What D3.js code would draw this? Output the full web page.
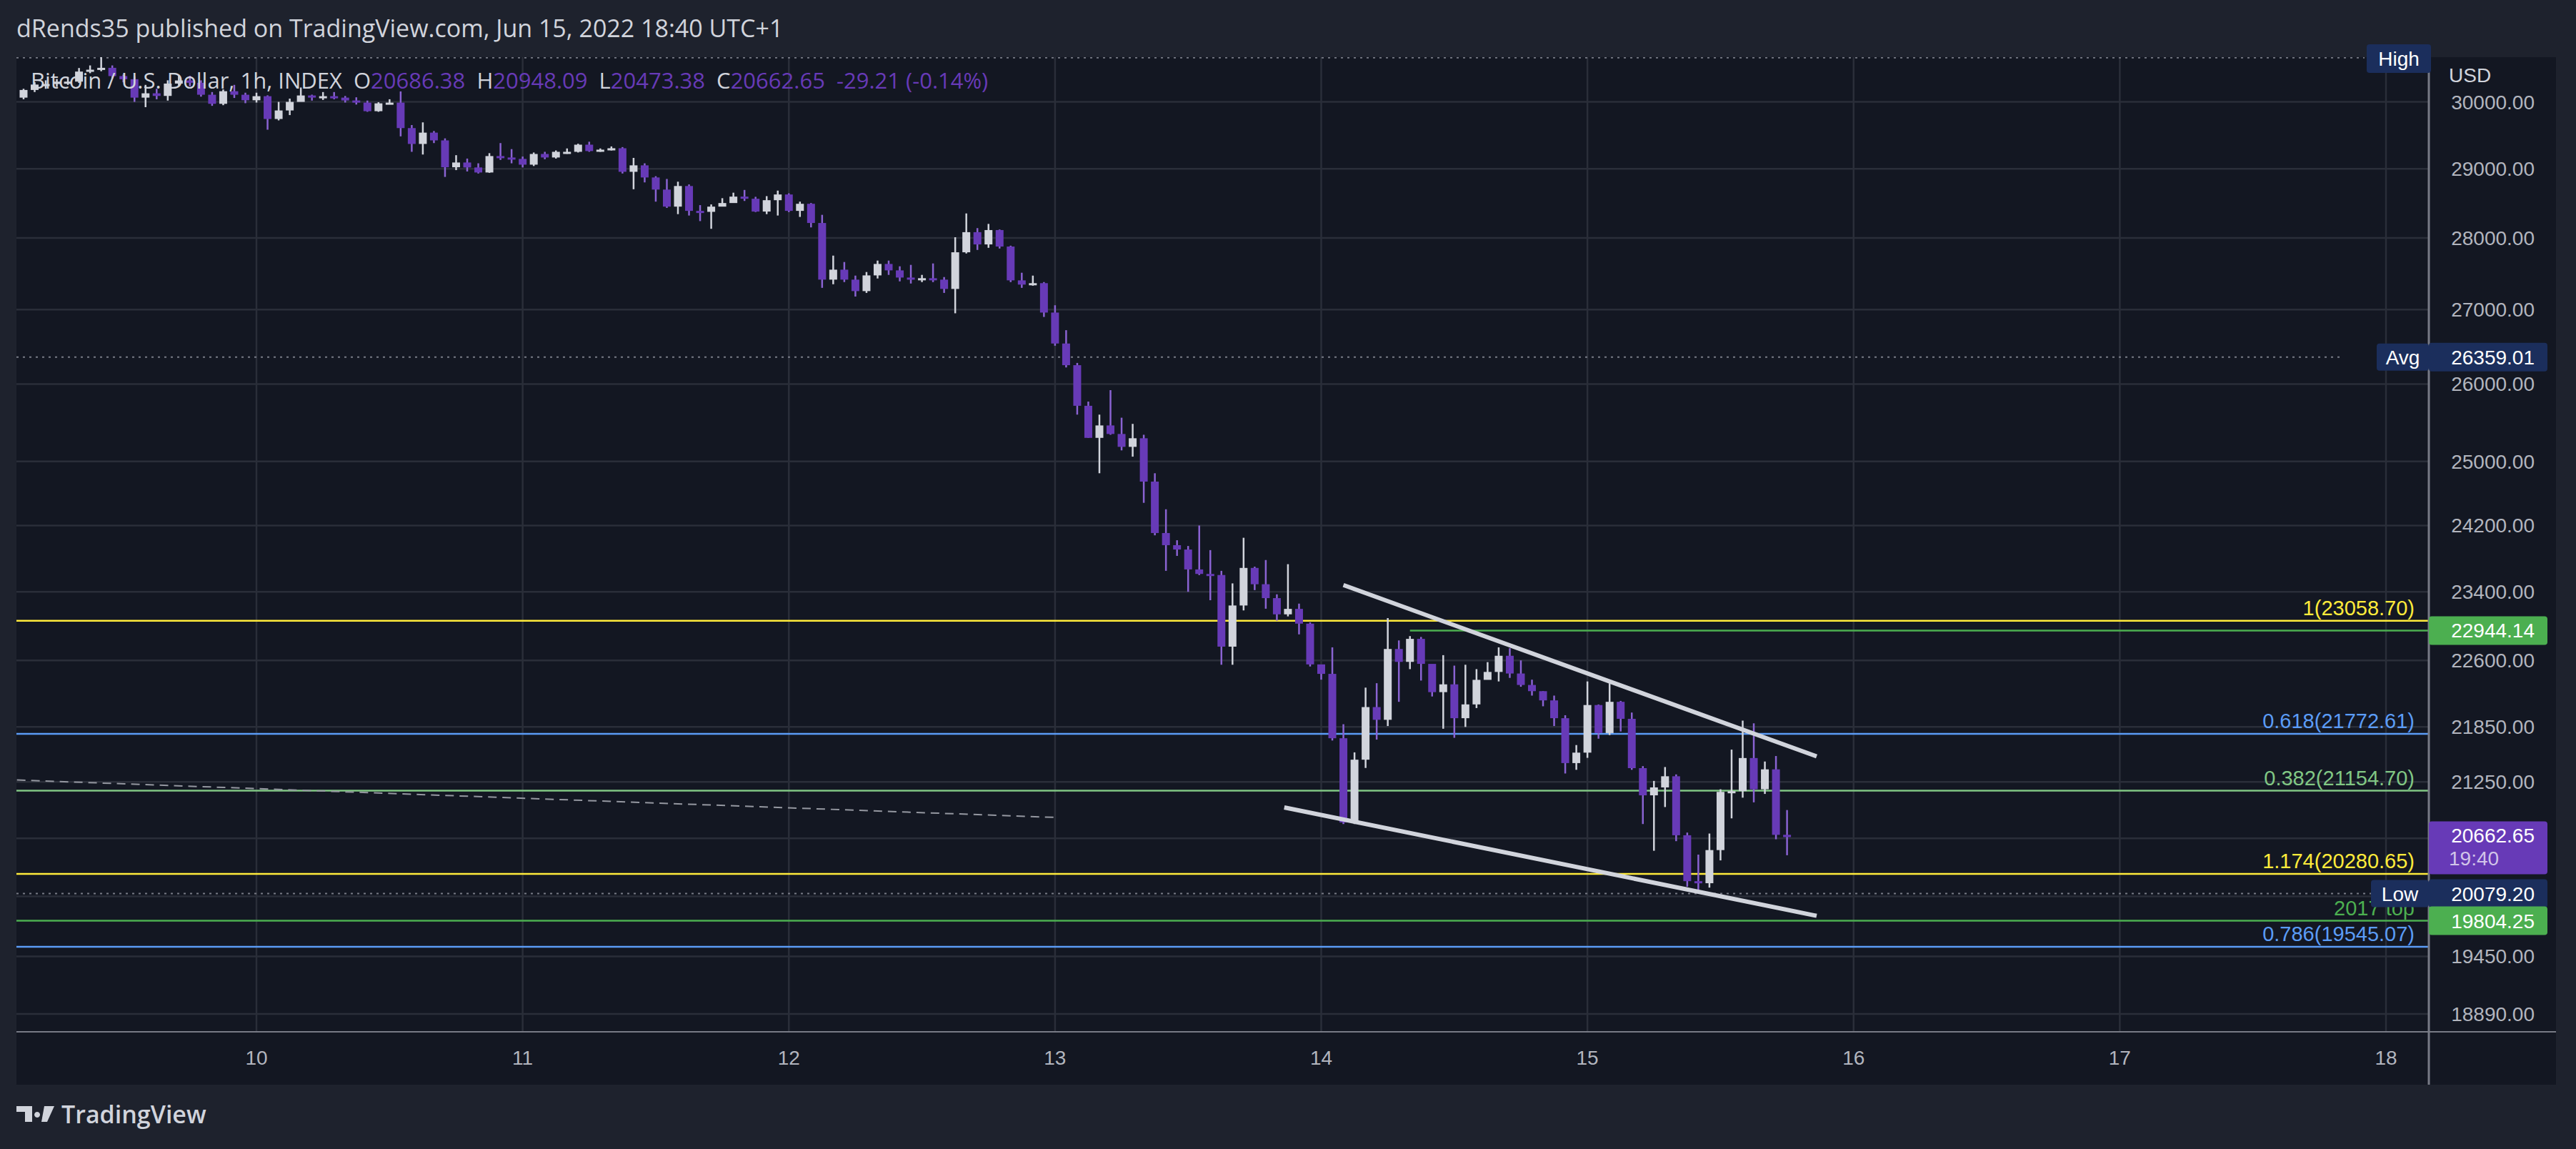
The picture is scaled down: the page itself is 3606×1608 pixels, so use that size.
<!DOCTYPE html>
<html><head><meta charset="utf-8">
<script src="https://cdn.jsdelivr.net/npm/d3@7"></script>
<style>body{margin:0;background:#1e222d}svg{display:block}</style>
</head><body>
<svg id="canvas" width="3606" height="1608"></svg>
<script>
// hourly candles, first one opens Jun 9 03:00
var startTime = new Date(2022, 5, 9, 3);
var firstOpen = 30065;
var closes = [30182,30265,30273,30310,30310,30465,30494,30523,30395,30347,
30065,30131,30091,30280,30328,30292,30109,29971,30163,30109,
30025,30087,29741,29870,30000,30098,30065,30087,30065,30022,
29989,29859,29978,29989,29604,29367,29536,29420,29022,29092,
29019,28945,29187,29166,29145,29060,29218,29166,29250,29250,
29356,29261,29282,29303,28955,29050,28872,28695,28448,28747,
28387,28373,28448,28500,28593,28562,28377,28541,28624,28387,
28489,28213,27414,27553,27414,27255,27473,27633,27543,27443,
27414,27434,27414,27285,27797,28082,27908,28112,27878,27404,
27345,27365,26960,26540,26250,25715,25300,25460,25350,25185,
25295,24745,24108,23960,23907,23667,23613,23600,22758,23238,
23685,23490,23325,23134,23198,23025,22554,22446,21725,20817,
21490,22071,21929,22731,22583,22848,22560,22239,22327,21947,
22101,22378,22468,22653,22450,22320,22250,22146,21947,21453,
21567,22094,21782,22130,21940,21398,21105,21190,21310,20682,
20206,20185,20527,21142,21150,21508,21170,21385,20686.38,20662.65];
var highs = [30200,30300,30330,30350,30380,30520,30560,30700,30560,30420,
30390,30260,30200,30330,30400,30400,30330,30150,30190,30260,
30140,30140,30100,30000,30050,30220,30110,30150,30150,30090,
30070,30020,29995,30040,30160,29650,29690,29560,29450,29200,
29150,29080,29230,29380,29290,29180,29240,29250,29270,29300,
29370,29400,29300,29330,29320,29160,29080,28890,28850,28810,
28770,28470,28480,28570,28650,28690,28590,28600,28680,28640,
28520,28500,28330,27750,27660,27470,27520,27680,27680,27600,
27620,27480,27640,27450,28010,28350,28140,28200,28120,27890,
27510,27470,27380,27060,26720,26280,25770,25600,25920,25560,
25480,25340,24850,24400,24020,23950,24200,23900,23650,23500,
24050,23700,23780,23370,23730,23260,23040,22520,22750,21880,
21570,22290,22340,23090,22830,22880,22870,22420,22660,22540,
22550,22500,22580,22750,22740,22600,22380,22250,22200,21980,
21650,22360,22100,22340,22140,22010,21420,21260,21410,21330,
20710,20480,20700,21170,21600,21920,21890,21470,21530,20948.09];
var lows = [30040,30150,30200,30230,30260,30290,30440,30470,30360,30300,
30000,29920,30040,30020,30250,30240,30080,29940,29950,30060,
29980,29990,29580,29720,29800,30040,30020,30030,30040,29990,
29960,29850,29850,29970,29480,29250,29210,29380,28880,28980,
28960,28930,28940,29130,29080,29020,29040,29140,29150,29220,
29240,29250,29250,29270,28930,28700,28800,28520,28430,28340,
28320,28240,28130,28450,28530,28530,28370,28340,28320,28370,
28300,28150,27300,27350,27380,27180,27230,27430,27480,27390,
27360,27380,27380,27230,26950,27780,27830,27860,27850,27380,
27300,27330,26900,26510,26220,25600,25300,24850,25340,25140,
25060,24480,24080,23650,23830,23400,23600,23300,22550,22550,
23180,23420,23200,23060,23110,22900,22530,22380,21700,20800,
20800,21400,21710,21860,22130,22500,22370,22190,21830,21730,
21850,22060,22400,22360,22400,22300,22200,22080,21860,21340,
21380,21510,21720,21760,21800,21380,20800,20520,20980,20620,
20150,20079.2,20140,20420,20860,21080,21030,21120,20640,20473.38];

var priceTicks = [30000,29000,28000,27000,26000,25000,24200,23400,22600,21850,21250,20650,20050,19450,18890];
var dayTicks = [10,11,12,13,14,15,16,17,18];

var fibLevels = [
  {label:"1(23058.70)", price:23058.70, color:"#ffeb3b"},
  {label:"0.618(21772.61)", price:21772.61, color:"#5b9cf6"},
  {label:"0.382(21154.70)", price:21154.70, color:"#81c784"},
  {label:"1.174(20280.65)", price:20280.65, color:"#ffeb3b"},
  {label:"0.786(19545.07)", price:19545.07, color:"#5b9cf6"}
];
var highPrice = 30680, avgPrice = 26359.01, lowPrice = 20079.20;
var greenHigh = 22944.14, greenLow = 19804.25;
var upperTrend = [[new Date(2022,5,14,2),23480],[new Date(2022,5,15,20,40),21526]];
var lowerTrend = [[new Date(2022,5,13,20,40),20976],[new Date(2022,5,15,20,40),19854]];
var dashedLine = [[new Date(2022,5,9,2,24),21270],[new Date(2022,5,12,24),20870]];

var svg = d3.select("#canvas");
var L = 23, R = 3400, T = 80, B = 1444, AX = 3578, PB = 1518, TX = 3548;
var font = "'Liberation Sans', Arial, sans-serif";

var x = d3.scaleTime().domain([new Date(2022,5,9), new Date(2022,5,18)]).range([-13.6, 3340]);
var y = d3.scaleLog().domain([30000, 18890]).range([142.6, 1419]);

// panel
svg.append("rect").attr("x",L).attr("y",T).attr("width",AX-L).attr("height",PB-T).attr("fill","#131722");
svg.append("clipPath").attr("id","plot").append("rect").attr("x",L).attr("y",T).attr("width",R-L).attr("height",B-T);
var plot = svg.append("g").attr("clip-path","url(#plot)");

// grid
plot.selectAll(".hg").data(priceTicks).join("line")
  .attr("x1",L).attr("x2",R).attr("y1",d=>y(d)).attr("y2",d=>y(d))
  .attr("stroke","#2a2e39").attr("stroke-width",2.5);
plot.selectAll(".vg").data(dayTicks).join("line")
  .attr("x1",d=>x(new Date(2022,5,d))).attr("x2",d=>x(new Date(2022,5,d)))
  .attr("y1",T).attr("y2",B).attr("stroke","#2a2e39").attr("stroke-width",2.5);

// dotted stats lines
[[highPrice,3310],[avgPrice,3280],[lowPrice,3320]].forEach(function(p){
  plot.append("line").attr("x1",L).attr("x2",p[1]).attr("y1",y(p[0])).attr("y2",y(p[0]))
    .attr("stroke","#787b86").attr("stroke-width",2).attr("stroke-dasharray","3,6");
});

// fib and horizontal lines
plot.selectAll(".fib").data(fibLevels).join("line")
  .attr("x1",L).attr("x2",R).attr("y1",d=>y(d.price)).attr("y2",d=>y(d.price))
  .attr("stroke",d=>d.color).attr("stroke-width",2.5);
plot.append("line").attr("x1",x(new Date(2022,5,14,8))).attr("x2",R)
  .attr("y1",y(greenHigh)).attr("y2",y(greenHigh)).attr("stroke","#4caf50").attr("stroke-width",2.5);
plot.append("line").attr("x1",L).attr("x2",R)
  .attr("y1",y(greenLow)).attr("y2",y(greenLow)).attr("stroke","#4caf50").attr("stroke-width",2.5);
svg.selectAll(".fibt").data(fibLevels).join("text")
  .attr("x",3380).attr("y",d=>y(d.price)-8).attr("text-anchor","end")
  .attr("font-family",font).attr("font-size",29).attr("fill",d=>d.color).text(d=>d.label);
svg.append("text").attr("x",3380).attr("y",y(greenLow)-8).attr("text-anchor","end")
  .attr("font-family",font).attr("font-size",29).attr("fill","#4caf50").text("2017 top");

// dashed line
var ln = d3.line().x(d=>x(d[0])).y(d=>y(d[1]));
plot.append("path").attr("d",ln(dashedLine)).attr("stroke","#9598a1").attr("stroke-width",2)
  .attr("stroke-dasharray","12,8").attr("fill","none");

// candles
var candles = closes.map(function(c,i){
  return {t:d3.timeHour.offset(startTime,i), o:i?closes[i-1]:firstOpen, c:c, h:highs[i], l:lows[i]};
});
var up = "#d1d4dc", dn = "#673ab7";
plot.selectAll(".wick").data(candles).join("line")
  .attr("x1",d=>x(d.t)).attr("x2",d=>x(d.t)).attr("y1",d=>y(d.h)).attr("y2",d=>y(d.l))
  .attr("stroke",d=>d.c>=d.o?up:"#8a63d2").attr("stroke-width",2.5);
plot.selectAll(".body").data(candles).join("rect")
  .attr("x",d=>x(d.t)-5.5).attr("width",11)
  .attr("y",d=>y(Math.max(d.o,d.c)))
  .attr("height",d=>Math.max(3,Math.abs(y(d.o)-y(d.c))))
  .attr("fill",d=>d.c>=d.o?up:dn);

// trend lines
[upperTrend,lowerTrend].forEach(function(t){
  plot.append("path").attr("d",ln(t)).attr("stroke","#d1d4dc").attr("stroke-width",6)
    .attr("fill","none");
});

// axes
svg.append("line").attr("x1",R).attr("x2",R).attr("y1",T).attr("y2",PB).attr("stroke","#787b86").attr("stroke-width",3);
svg.append("line").attr("x1",L).attr("x2",AX).attr("y1",B).attr("y2",B).attr("stroke","#787b86").attr("stroke-width",2);
svg.selectAll(".pt").data(priceTicks).join("text")
  .attr("x",TX).attr("y",d=>y(d)+10).attr("text-anchor","end")
  .attr("font-family",font).attr("font-size",28).attr("fill","#b2b5be")
  .text(d=>d3.format(".2f")(d));
svg.append("text").attr("x",3428).attr("y",115).attr("font-family",font).attr("font-size",28)
  .attr("fill","#d1d4dc").text("USD");
svg.selectAll(".dt").data(dayTicks).join("text")
  .attr("x",d=>x(new Date(2022,5,d))).attr("y",1490).attr("text-anchor","middle")
  .attr("font-family",font).attr("font-size",28).attr("fill","#b2b5be").text(d=>d);

// tags left of the axis
function tagLabel(price, txt, x0){
  svg.append("rect").attr("x",x0).attr("y",y(price)-19).attr("width",R-x0).attr("height",38).attr("rx",4).attr("fill","#1b2e5c");
  svg.append("text").attr("x",(x0+R)/2).attr("y",y(price)+10).attr("text-anchor","middle")
    .attr("font-family",font).attr("font-size",28).attr("fill","#ffffff").text(txt);
}
tagLabel(avgPrice,"Avg",3327);
tagLabel(lowPrice,"Low",3319);
svg.append("rect").attr("x",3313).attr("y",62).attr("width",90).attr("height",40).attr("rx",4).attr("fill","#1b2e5c");
svg.append("text").attr("x",3358).attr("y",92).attr("text-anchor","middle").attr("font-family",font)
  .attr("font-size",28).attr("fill","#ffffff").text("High");

// labels on axis
function axisLabel(price, txt, fill){
  svg.append("rect").attr("x",R).attr("y",y(price)-20).attr("width",AX-R-12).attr("height",40).attr("rx",4).attr("fill",fill);
  svg.append("text").attr("x",TX).attr("y",y(price)+10).attr("text-anchor","end")
    .attr("font-family",font).attr("font-size",28).attr("fill","#ffffff").text(txt);
}
axisLabel(avgPrice,"26359.01","#1b2e5c");
axisLabel(greenHigh,"22944.14","#4caf50");
axisLabel(lowPrice,"20079.20","#1b2e5c");
axisLabel(greenLow,"19804.25","#4caf50");
var last = closes[closes.length-1];
svg.append("rect").attr("x",R).attr("y",y(last)-22).attr("width",AX-R-12).attr("height",74).attr("rx",4).attr("fill","#673ab7");
svg.append("text").attr("x",TX).attr("y",y(last)+8).attr("text-anchor","end").attr("font-family",font)
  .attr("font-size",28).attr("fill","#ffffff").text("20662.65");
svg.append("text").attr("x",3428).attr("y",y(last)+40).attr("font-family",font)
  .attr("font-size",28).attr("fill","#d1c4e9").text("19:40");

// header, legend, footer
svg.append("text").attr("x",23).attr("y",52).attr("font-family","'Open Sans', sans-serif").attr("font-size",34)
  .attr("fill","#d1d4dc").text("dRends35 published on TradingView.com, Jun 15, 2022 18:40 UTC+1");
var leg = svg.append("text").attr("x",43).attr("y",124).attr("font-family","'Open Sans', sans-serif").attr("font-size",31)
  .attr("style","white-space:pre");
[["Bitcoin / U.S. Dollar, 1h, INDEX  ","#d1d4dc"],["O","#d1d4dc"],["20686.38  ","#673ab7"],["H","#d1d4dc"],["20948.09  ","#673ab7"],
 ["L","#d1d4dc"],["20473.38  ","#673ab7"],["C","#d1d4dc"],["20662.65  -29.21 (-0.14%)","#673ab7"]].forEach(function(p){
  leg.append("tspan").attr("fill",p[1]).text(p[0]);
});
svg.append("path").attr("d","M23,1548 h22 v22 h-10 v-14 h-12 z M52,1556 a4,4 0 1 0 0.1,0").attr("fill","#d1d4dc");
svg.append("path").attr("d","M62,1548 h14 l-10,22 h-8 z").attr("fill","#d1d4dc");
svg.append("text").attr("x",86).attr("y",1572).attr("font-family","'Open Sans', sans-serif").attr("font-size",34)
  .attr("font-weight",600).attr("fill","#d1d4dc").text("TradingView");
</script>
</body></html>
